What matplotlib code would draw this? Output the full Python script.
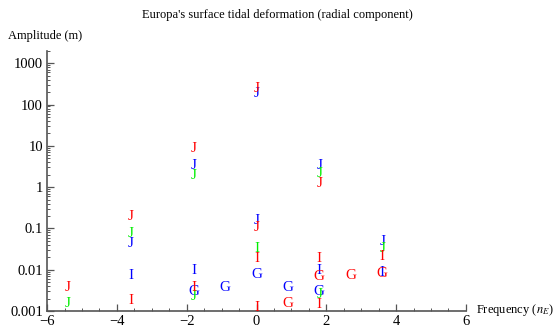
import matplotlib
matplotlib.use("Agg")
import matplotlib.pyplot as plt
from matplotlib.ticker import FixedLocator, MultipleLocator, LogLocator, NullFormatter

plt.rcParams["font.family"] = ["Liberation Serif", "DejaVu Serif"]
plt.rcParams["mathtext.fontset"] = "stix"

# letters drawn as markers: (frequency in n_E, amplitude in m, letter)
blue_x = [-3.6, -1.8, 0.0, 0.0, 1.8, 3.6, -3.6, -1.8, 1.8, 3.6, -1.8, -0.9, 0.0, 0.9, 1.8]
blue_y = [0.043, 3.4, 188, 0.16, 3.4, 0.047, 0.0073, 0.0097, 0.0097, 0.0088,
          0.0029, 0.0037, 0.0077, 0.0038, 0.0029]
blue_lbl = ["J", "J", "J", "J", "J", "J", "I", "I", "I", "I", "G", "G", "G", "G", "G"]

green_x = [-5.4, -3.6, -1.8, -1.8, 1.8, 1.8, 3.6, 0.0]
green_y = [0.0015, 0.075, 1.95, 0.0022, 2.15, 0.0025, 0.032, 0.032]
green_lbl = ["J", "J", "J", "J", "J", "J", "J", "I"]

red_x = [-5.4, -3.6, -1.8, 0.0, 0.0, 1.8, -3.6, -1.8, 0.0, 0.0, 1.8, 1.8, 3.6, 0.9, 1.8, 2.7, 3.6]
red_y = [0.0038, 0.198, 8.7, 250, 0.105, 1.23, 0.0018, 0.0038, 0.0186, 0.00125,
         0.0186, 0.0014, 0.021, 0.0015, 0.0069, 0.0073, 0.0083]
red_lbl = ["J", "J", "J", "J", "J", "J", "I", "I", "I", "I", "I", "I", "I", "G", "G", "G", "G"]

fig = plt.figure(figsize=(5.54, 3.31), dpi=100)
ax = fig.add_axes([0.085, 0.0604, 0.756, 0.786])
ax.set_xlim(-6, 6)
ax.set_yscale("log")
ax.set_ylim(0.001, 2000)

for xs, ys, lbls, col in [(blue_x, blue_y, blue_lbl, "#0000ff"),
                          (green_x, green_y, green_lbl, "#00ee00"),
                          (red_x, red_y, red_lbl, "#ff0000")]:
    for x, y, s in zip(xs, ys, lbls):
        ax.text(x, y, s, color=col, fontsize=11, ha="center", va="center")

for side in ["top", "right"]:
    ax.spines[side].set_visible(False)
for side in ["left", "bottom"]:
    ax.spines[side].set_color("#555555")
    ax.spines[side].set_linewidth(1.2)

ax.xaxis.set_major_locator(FixedLocator([-6, -4, -2, 0, 2, 4, 6]))
ax.xaxis.set_minor_locator(MultipleLocator(0.5))
ax.yaxis.set_major_locator(FixedLocator([0.001, 0.01, 0.1, 1, 10, 100, 1000]))
ax.yaxis.set_minor_locator(LogLocator(base=10, subs=range(2, 10)))
ax.yaxis.set_minor_formatter(NullFormatter())
ax.set_yticklabels(["0.001", "0.01", "0.1", "1", "10", "100", "1000"])
ax.tick_params(which="major", direction="in", length=5, width=0.9, color="#555555",
               labelsize=10.5, pad=3)
ax.tick_params(which="minor", direction="in", length=2.5, width=0.7, color="#555555")

fig.text(0.5, 0.955, "Europa's surface tidal deformation (radial component)",
         ha="center", va="center", fontsize=9)
fig.text(0.015, 0.89, "Amplitude (m)", ha="left", va="center", fontsize=9)
fig.text(0.86, 0.063, "Frequency ($n_E$)", ha="left", va="center", fontsize=9)

fig.savefig("out.png", dpi=100)
